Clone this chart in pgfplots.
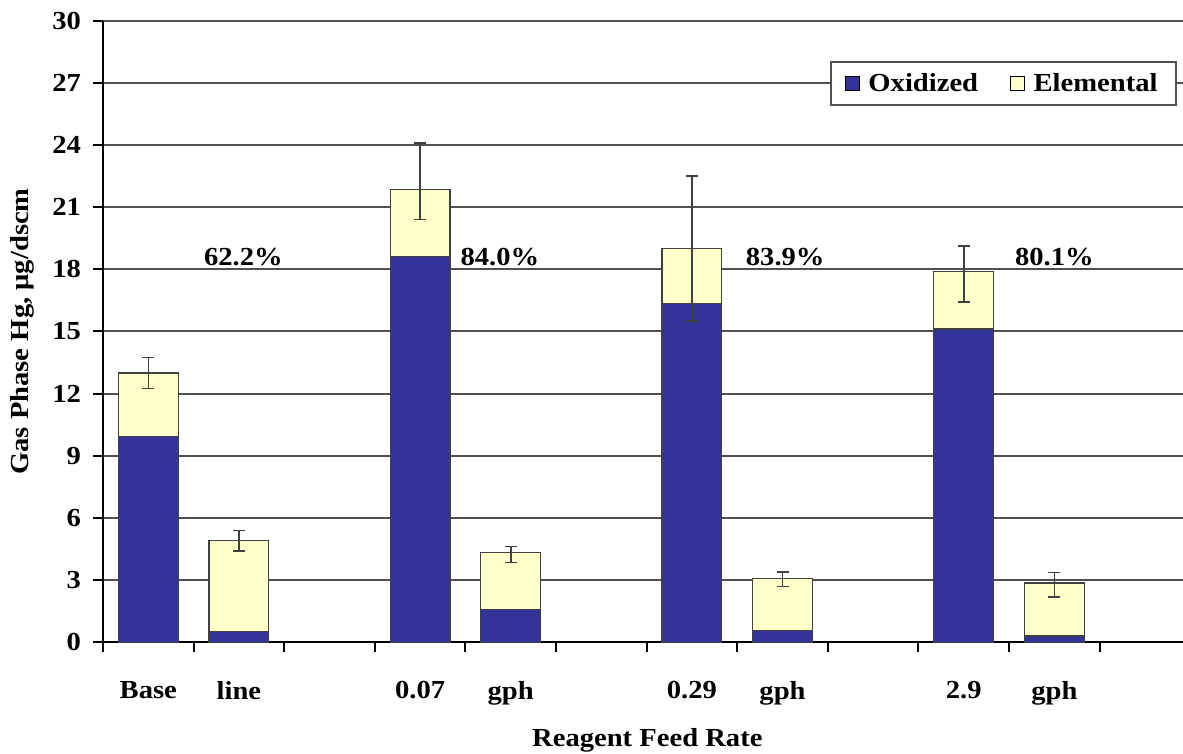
\documentclass[border=0pt]{standalone}
\usepackage{pgfplots}
\pgfplotsset{compat=1.18}
\usepackage{pgfplotstable}
\usepackage{fontspec}
\setmainfont[FakeStretch=1.1]{Liberation Serif}

\definecolor{oxid}{HTML}{333399}
\definecolor{elem}{HTML}{FFFFCC}
\definecolor{gridc}{HTML}{505050}
\definecolor{edgec}{HTML}{404040}

% Gas phase Hg per condition: total, oxidized part, error bar (+/-)
\pgfplotstableread{
x  total oxid  ep   em
0  13.00 9.95  0.75 0.75
1  4.90  0.52  0.49 0.49
3  21.85 18.60 2.25 1.45
4  4.32  1.60  0.30 0.46
6  19.00 16.35 3.50 3.50
7  3.06  0.58  0.32 0.37
9  17.90 15.12 1.24 1.48
10 2.86  0.30  0.51 0.67
}\hgdata

\newcommand{\lblfont}{\bfseries\fontsize{13}{15}\selectfont}

\begin{document}
\begin{tikzpicture}
\begin{axis}[
  scale only axis,
  width=540pt, height=310.8pt,
  xmin=-0.5, xmax=11.42,
  ymin=0, ymax=30,
  axis x line*=bottom, axis y line*=left,
  axis line style={black, line width=1.2pt},
  ytick={0,3,...,30},
  ymajorgrids,
  grid style={gridc, line width=1pt},
  xtick={-0.5,0.5,...,10.5},
  xticklabels={},
  extra x ticks={0,1,3,4,6,7,9,10},
  extra x tick labels={Base,line,0.07,gph,0.29,gph,2.9,gph},
  extra x tick style={major tick length=0pt,
    tick label style={anchor=north, yshift=-16pt}},
  tick align=outside,
  major tick length=5pt,
  tick style={black, line width=1pt},
  /pgf/number format/assume math mode=true,
  tick label style={font=\lblfont},
  yticklabel style={anchor=east, xshift=-2.5pt},
  xlabel={Reagent Feed Rate},
  ylabel={Gas Phase Hg, μg/dscm},
  label style={font=\lblfont},
  xlabel style={at={(axis description cs:0.504,-0.157)}, anchor=center},
  ylabel style={at={(axis description cs:-0.075,0.5)}, anchor=center},
  legend columns=2,
  legend style={at={(axis description cs:0.994,0.935)}, anchor=north east,
    draw=gridc, line width=1pt, font=\lblfont,
    inner xsep=7pt, inner ysep=3.5pt,
    /tikz/every even column/.append style={column sep=14pt}},
  legend image code/.code={\draw[#1, draw=black, line width=0.5pt]
    (0pt,-3.5pt) rectangle (7pt,3.5pt); \path (9pt,0pt);},
]
\addlegendimage{fill=oxid}
\addlegendentry{Oxidized}
\addlegendimage{fill=elem}
\addlegendentry{Elemental}

% total height (elemental on top of oxidized)
\addplot[ybar, bar width=0.66, bar shift=0pt, fill=elem, draw=edgec,
  line width=0.6pt, forget plot]
  table[x=x, y=total]{\hgdata};
% oxidized part
\addplot[ybar, bar width=0.66, bar shift=0pt, fill=oxid, draw=edgec,
  line width=0.6pt, forget plot]
  table[x=x, y=oxid]{\hgdata};
% error bars on the totals
\addplot[draw=none, mark=none, forget plot,
  error bars/.cd, y dir=both, y explicit,
  error bar style={draw=edgec, line width=0.8pt},
  error mark options={rotate=90, draw=edgec, line width=0.8pt, mark size=3pt}]
  table[x=x, y=total, y error plus=ep, y error minus=em]{\hgdata};

\node[font=\lblfont] at (axis cs:1.05,18.57) {62.2\%};
\node[font=\lblfont] at (axis cs:3.88,18.57) {84.0\%};
\node[font=\lblfont] at (axis cs:7.03,18.57) {83.9\%};
\node[font=\lblfont] at (axis cs:10.0,18.57) {80.1\%};

\coordinate (bbA) at (axis description cs:-0.0954,1.0333);
\coordinate (bbB) at (axis description cs:1.0,-0.1797);
\end{axis}
\pgfresetboundingbox
\path[use as bounding box] (bbA) rectangle (bbB);
\end{tikzpicture}
\end{document}
